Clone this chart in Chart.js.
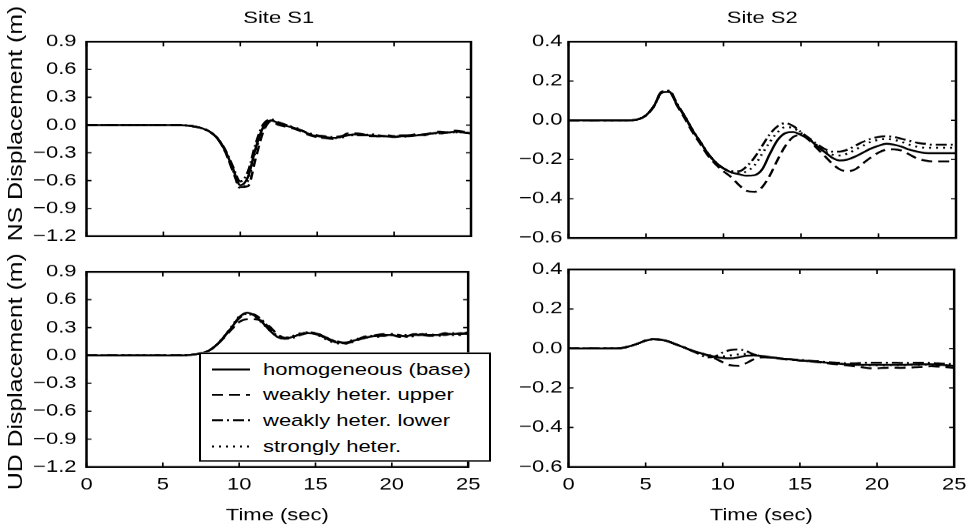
<!DOCTYPE html>
<html><head><meta charset="utf-8">
<script src="https://cdn.jsdelivr.net/npm/chart.js@4.4.1/dist/chart.umd.min.js"></script>
<style>
html,body{margin:0;padding:0;background:#fff;overflow:hidden;width:976px;height:528px}
#wrap{position:absolute;left:0;top:0;width:976px;height:686px;transform:scaleY(0.769679);transform-origin:0 0}
canvas{position:absolute}
#legend{position:absolute;left:199px;top:457.7px;width:292px;height:142px;box-sizing:border-box;border:2px solid #000;background:#fff;font-family:'Liberation Sans',Arial,sans-serif;font-size:22px;color:#000}
.row{position:absolute;left:0;width:100%;height:30px;line-height:30px;white-space:nowrap}
.row svg{position:absolute;left:10px;top:10px}
.row span{position:absolute;left:62px;top:0}
</style></head>
<body>
<div id="wrap">
<canvas id="c1" width="490" height="330" style="left:0;top:0"></canvas>
<canvas id="c2" width="486" height="330" style="left:490px;top:0"></canvas>
<canvas id="c3" width="490" height="356" style="left:0;top:330px"></canvas>
<canvas id="c4" width="486" height="356" style="left:490px;top:330px"></canvas>
<div id="legend"></div>
</div>
<script>
const FONT = "'Liberation Sans', Arial, Helvetica, sans-serif";

const time = [0,0.5,1,1.5,2,2.5,3,3.5,4,4.5,5,5.5,6,6.5,7,7.5,8,8.5,9,9.5,10,10.5,11,11.5,12,12.5,13,13.5,14,14.5,15,15.5,16,16.5,17,17.5,18,18.5,19,19.5,20,20.5,21,21.5,22,22.5,23,23.5,24,24.5,25];
const xTicks = [0,5,10,15,20,25];
const yTicksS1 = [-1.2,-0.9,-0.6,-0.3,0,0.3,0.6,0.9];
const yTicksS2 = [-0.6,-0.4,-0.2,0,0.2,0.4];
const seriesNames = ['homogeneous (base)','weakly heter. upper','weakly heter. lower','strongly heter.'];
const panelTitles = ['Site S1','Site S2'];
const yTitles = ['NS Displacement (m)','UD Displacement (m)'];
const xTitle = 'Time (sec)';

// Site S1, NS
const s1nsBase   = [0,0,0,0,0,0,0,0,0,0,0,0,0,-0.005,-0.015,-0.035,-0.07,-0.14,-0.27,-0.46,-0.65,-0.56,-0.25,-0.02,0.05,0.02,-0.01,-0.03,-0.06,-0.10,-0.12,-0.13,-0.14,-0.13,-0.11,-0.10,-0.11,-0.11,-0.12,-0.12,-0.13,-0.12,-0.12,-0.11,-0.10,-0.09,-0.08,-0.08,-0.07,-0.08,-0.09];
const s1nsUpper  = [0,0,0,0,0,0,0,0,0,0,0,0,0,-0.005,-0.015,-0.035,-0.07,-0.14,-0.28,-0.49,-0.67,-0.66,-0.36,-0.07,0.04,0.00,-0.02,-0.04,-0.07,-0.11,-0.13,-0.14,-0.15,-0.13,-0.09,-0.09,-0.10,-0.12,-0.12,-0.11,-0.12,-0.13,-0.11,-0.10,-0.11,-0.08,-0.07,-0.08,-0.06,-0.07,-0.08];
const s1nsLower  = [0,0,0,0,0,0,0,0,0,0,0,0,0,-0.005,-0.015,-0.035,-0.07,-0.14,-0.26,-0.44,-0.61,-0.50,-0.20,0.01,0.06,0.03,0.00,-0.03,-0.06,-0.09,-0.11,-0.12,-0.13,-0.12,-0.11,-0.11,-0.11,-0.10,-0.11,-0.12,-0.12,-0.11,-0.11,-0.11,-0.10,-0.09,-0.09,-0.08,-0.08,-0.08,-0.09];
const s1nsStrong = [0,0,0,0,0,0,0,0,0,0,0,0,0,-0.005,-0.015,-0.035,-0.07,-0.14,-0.28,-0.48,-0.68,-0.60,-0.28,-0.04,0.05,0.01,-0.01,-0.02,-0.06,-0.10,-0.12,-0.14,-0.14,-0.14,-0.11,-0.10,-0.11,-0.12,-0.12,-0.12,-0.12,-0.12,-0.12,-0.11,-0.10,-0.09,-0.09,-0.08,-0.08,-0.08,-0.09];

// Site S1, UD
const s1udBase   = [0,0,0,0,0,0,0,0,0,0,0,0,0,0.002,0.01,0.025,0.05,0.11,0.20,0.30,0.41,0.46,0.43,0.36,0.27,0.20,0.18,0.20,0.23,0.24,0.23,0.20,0.16,0.14,0.14,0.16,0.18,0.20,0.21,0.22,0.22,0.21,0.21,0.22,0.22,0.22,0.22,0.23,0.23,0.24,0.23];
const s1udUpper  = [0,0,0,0,0,0,0,0,0,0,0,0,0,0.002,0.01,0.025,0.05,0.11,0.19,0.28,0.36,0.39,0.39,0.37,0.31,0.23,0.19,0.20,0.23,0.25,0.24,0.21,0.17,0.14,0.13,0.15,0.18,0.20,0.22,0.23,0.22,0.20,0.21,0.23,0.22,0.21,0.23,0.22,0.24,0.23,0.24];
const s1udLower  = [0,0,0,0,0,0,0,0,0,0,0,0,0,0.002,0.01,0.025,0.05,0.11,0.20,0.30,0.40,0.45,0.44,0.38,0.29,0.21,0.18,0.19,0.22,0.24,0.24,0.21,0.17,0.15,0.13,0.15,0.19,0.21,0.21,0.21,0.23,0.22,0.20,0.21,0.23,0.21,0.22,0.24,0.22,0.23,0.25];
const s1udStrong = [0,0,0,0,0,0,0,0,0,0,0,0,0,0.002,0.01,0.025,0.05,0.11,0.20,0.31,0.42,0.45,0.42,0.35,0.27,0.21,0.19,0.21,0.24,0.25,0.23,0.19,0.15,0.13,0.14,0.17,0.19,0.21,0.20,0.22,0.23,0.22,0.22,0.21,0.23,0.23,0.21,0.23,0.24,0.22,0.24];

// Site S2, NS
const s2nsBase   = [0,0,0,0,0,0,0,0,0,0.005,0.025,0.07,0.14,0.145,0.08,0.02,-0.05,-0.11,-0.17,-0.215,-0.245,-0.265,-0.275,-0.283,-0.28,-0.25,-0.17,-0.10,-0.065,-0.06,-0.075,-0.095,-0.13,-0.16,-0.19,-0.205,-0.20,-0.185,-0.165,-0.145,-0.13,-0.12,-0.125,-0.135,-0.15,-0.16,-0.167,-0.168,-0.168,-0.168,-0.168];
const s2nsUpper  = [0,0,0,0,0,0,0,0,0,0.005,0.025,0.07,0.14,0.145,0.075,0.01,-0.06,-0.12,-0.18,-0.225,-0.26,-0.29,-0.33,-0.36,-0.365,-0.34,-0.28,-0.20,-0.13,-0.085,-0.075,-0.10,-0.14,-0.18,-0.22,-0.25,-0.26,-0.25,-0.22,-0.19,-0.165,-0.15,-0.148,-0.155,-0.175,-0.195,-0.205,-0.21,-0.21,-0.21,-0.21];
const s2nsLower  = [0,0,0,0,0,0,0,0,0,0.005,0.025,0.07,0.145,0.15,0.085,0.02,-0.05,-0.11,-0.17,-0.215,-0.245,-0.26,-0.26,-0.235,-0.19,-0.13,-0.07,-0.03,-0.015,-0.03,-0.06,-0.09,-0.12,-0.145,-0.16,-0.16,-0.15,-0.13,-0.11,-0.095,-0.085,-0.082,-0.085,-0.095,-0.105,-0.115,-0.12,-0.125,-0.125,-0.125,-0.125];
const s2nsStrong = [0,0,0,0,0,0,0,0,0,0.005,0.025,0.07,0.14,0.15,0.08,0.02,-0.05,-0.11,-0.17,-0.215,-0.245,-0.265,-0.27,-0.26,-0.23,-0.17,-0.11,-0.06,-0.035,-0.04,-0.065,-0.095,-0.125,-0.155,-0.175,-0.18,-0.17,-0.15,-0.13,-0.11,-0.10,-0.095,-0.10,-0.11,-0.125,-0.135,-0.14,-0.14,-0.14,-0.14,-0.14];

// Site S2, UD
const s2udBase   = [0,0,0,0,0,0,0,0.003,0.012,0.025,0.04,0.047,0.045,0.035,0.02,0.005,-0.01,-0.022,-0.033,-0.042,-0.048,-0.05,-0.045,-0.037,-0.035,-0.038,-0.043,-0.048,-0.053,-0.057,-0.06,-0.063,-0.066,-0.07,-0.074,-0.077,-0.08,-0.082,-0.083,-0.083,-0.083,-0.083,-0.083,-0.083,-0.082,-0.081,-0.08,-0.08,-0.082,-0.085,-0.088];
const s2udUpper  = [0,0,0,0,0,0,0,0.003,0.012,0.025,0.04,0.047,0.045,0.035,0.02,0.005,-0.01,-0.022,-0.035,-0.05,-0.07,-0.085,-0.088,-0.075,-0.055,-0.045,-0.045,-0.05,-0.055,-0.058,-0.06,-0.064,-0.068,-0.072,-0.077,-0.08,-0.085,-0.09,-0.095,-0.10,-0.10,-0.098,-0.097,-0.098,-0.097,-0.095,-0.092,-0.09,-0.092,-0.095,-0.098];
const s2udLower  = [0,0,0,0,0,0,0,0.003,0.012,0.025,0.04,0.047,0.045,0.035,0.02,0.005,-0.012,-0.03,-0.045,-0.04,-0.02,-0.008,-0.005,-0.012,-0.03,-0.04,-0.045,-0.048,-0.052,-0.055,-0.058,-0.061,-0.064,-0.067,-0.07,-0.072,-0.075,-0.075,-0.073,-0.072,-0.072,-0.072,-0.072,-0.073,-0.073,-0.072,-0.072,-0.073,-0.075,-0.078,-0.08];
const s2udStrong = [0,0,0,0,0,0,0,0.003,0.012,0.025,0.04,0.047,0.045,0.035,0.02,0.005,-0.01,-0.022,-0.032,-0.038,-0.04,-0.035,-0.03,-0.028,-0.032,-0.038,-0.043,-0.048,-0.053,-0.057,-0.06,-0.063,-0.066,-0.07,-0.074,-0.077,-0.08,-0.082,-0.084,-0.085,-0.085,-0.085,-0.084,-0.084,-0.083,-0.082,-0.082,-0.082,-0.084,-0.086,-0.09];

const dashes = [[], [11,6], [11,4,2,4], [2,5]];

function fmt(v){ const s = (Math.abs(v) < 1e-9 ? 0 : v).toFixed(1); return s.replace('-', '\u2212'); }

function mkDatasets(arrs){
  return arrs.map((a,i)=>({
    label: seriesNames[i],
    data: time.map((t,j)=>({x:t, y:a[j]})),
    borderColor:'#000', backgroundColor:'#000', borderWidth:2.5,
    borderDash: dashes[i], pointRadius:0, cubicInterpolationMode:'monotone', fill:false
  }));
}

const framePlugin = {
  id:'frame',
  afterDraw(chart){
    const {ctx, chartArea:{left,right,top,bottom}, scales:{x,y}} = chart;
    ctx.save();
    ctx.strokeStyle = '#000';
    ctx.lineWidth = 1.6;
    ctx.beginPath();
    const LV = 6, LH = 5;
    x.ticks.forEach(t=>{
      const p = x.getPixelForValue(t.value);
      ctx.moveTo(p, bottom); ctx.lineTo(p, bottom-LV);
      ctx.moveTo(p, top); ctx.lineTo(p, top+LV);
    });
    y.ticks.forEach(t=>{
      const p = y.getPixelForValue(t.value);
      ctx.moveTo(left, p); ctx.lineTo(left+LH, p);
      ctx.moveTo(right, p); ctx.lineTo(right-LH, p);
    });
    ctx.stroke();
    ctx.lineWidth = 2.5;
    ctx.strokeRect(left, top, right-left, bottom-top);
    ctx.restore();
  }
};

// vertical axis title, drawn so that it keeps the wide lettering of the original
const yTitlePlugin = {
  id:'yTitleWide',
  afterDraw(chart, args, opts){
    if(!opts || !opts.text) return;
    const {ctx, chartArea:{top,bottom}} = chart;
    ctx.save();
    ctx.translate(opts.x, (top+bottom)/2 + (opts.dy||0));
    ctx.rotate(-Math.PI/2);
    ctx.scale(opts.stretch, 1);
    ctx.font = opts.size + 'px ' + FONT;
    ctx.fillStyle = '#000';
    ctx.textAlign = 'center';
    ctx.textBaseline = 'middle';
    ctx.fillText(opts.text, 0, 0);
    ctx.restore();
  }
};

function panel(id, arrs, cfg){
  return new Chart(document.getElementById(id), {
    type:'line',
    data:{datasets: mkDatasets(arrs)},
    options:{
      responsive:false, animation:false, devicePixelRatio:1,
      layout:{padding:cfg.pad},
      plugins:{
        legend:{display:false}, tooltip:{enabled:false},
        title:{display:!!cfg.title, text:cfg.title || '', fullSize:false, color:'#000',
          font:{family:FONT, size:22, weight:'normal'}, padding:{top:10.6, bottom:17.2}},
        yTitleWide:{text:cfg.ytitle, x:16, size:20, stretch:1.61, dy:cfg.ydy || 0}
      },
      scales:{
        x:{type:'linear', min:0, max:25,
          grid:{display:false, drawTicks:false}, border:{display:false},
          afterBuildTicks: s=>{ s.ticks = xTicks.map(v=>({value:v})); },
          afterFit: s=>{ s.height = cfg.xh; },
          ticks:{display:cfg.xlabels, color:'#000', font:{family:FONT, size:22}, padding:9.6, maxRotation:0, autoSkip:false},
          title:{display:cfg.xlabels, text:xTitle, color:'#000', font:{family:FONT, size:22}, padding:{top:0, bottom:2.8}}
        },
        y:{type:'linear', min:cfg.ymin, max:cfg.ymax,
          grid:{display:false, drawTicks:false}, border:{display:false},
          afterBuildTicks: s=>{ s.ticks = cfg.yticks.map(v=>({value:v})); },
          afterFit: s=>{ s.width = cfg.yw; },
          ticks:{color:'#000', font:{family:FONT, size:22}, padding:cfg.ypad, autoSkip:false, callback:v=>fmt(v)}
        }
      }
    },
    plugins:[framePlugin, yTitlePlugin]
  });
}

panel('c1', [s1nsBase, s1nsUpper, s1nsLower, s1nsStrong], {
  title:panelTitles[0], ytitle:yTitles[0], yticks:yTicksS1, ymin:-1.2, ymax:0.9,
  yw:86.5, ypad:10, xh:0, xlabels:false, pad:{left:0, right:19, top:0, bottom:20.8}, ydy:-20
});
panel('c2', [s2nsBase, s2nsUpper, s2nsLower, s2nsStrong], {
  title:panelTitles[1], ytitle:null, yticks:yTicksS2, ymin:-0.6, ymax:0.4,
  yw:78.5, ypad:6, xh:0, xlabels:false, pad:{left:0, right:20, top:0, bottom:20.8}
});
panel('c3', [s1udBase, s1udUpper, s1udLower, s1udStrong], {
  title:null, ytitle:yTitles[1], yticks:yTicksS1, ymin:-1.2, ymax:0.9,
  yw:86.5, ypad:10, xh:79.3, xlabels:true, pad:{left:0, right:19, top:20.1, bottom:0}, ydy:3
});
panel('c4', [s2udBase, s2udUpper, s2udLower, s2udStrong], {
  title:null, ytitle:null, yticks:yTicksS2, ymin:-0.6, ymax:0.4,
  yw:78.5, ypad:6, xh:79.3, xlabels:true, pad:{left:0, right:20, top:20.1, bottom:0}
});

// legend (HTML overlay, same line styles as the datasets)
const legend = document.getElementById('legend');
const rowCenters = [22.1, 55.5, 88, 122.7];
seriesNames.forEach((name,i)=>{
  const row = document.createElement('div');
  row.className = 'row';
  row.style.top = (rowCenters[i] - 15 - 2) + 'px';
  row.innerHTML = '<svg width="40" height="10"><line x1="1" y1="5" x2="39" y2="5" stroke="#000" stroke-width="2.5" stroke-dasharray="' +
    (dashes[i].length ? dashes[i].join(',') : 'none') + '"/></svg><span>' + name + '</span>';
  legend.appendChild(row);
});
</script>
</body></html>
